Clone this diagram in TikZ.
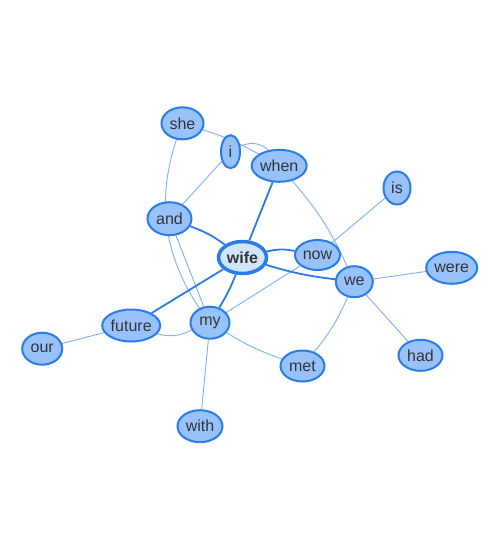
\documentclass[tikz,border=0pt]{standalone}
\usepackage{fontspec}
\setmainfont{Liberation Sans}
\usetikzlibrary{shapes.geometric,backgrounds}
\definecolor{nodefill}{HTML}{97C2FC}
\definecolor{nodeborder}{HTML}{2B7CE9}
\definecolor{hifill}{HTML}{D2E5FF}
\definecolor{thinedge}{HTML}{7FB0F4}
\definecolor{txt}{HTML}{343434}
\tikzset{
  word/.style={ellipse, draw=nodeborder, fill=nodefill, line width=2pt, inner sep=0pt,
    text=txt, font=\fontsize{16}{18}\selectfont},
  hub/.style={word, fill=hifill, line width=3.5pt, font=\fontsize{16}{18}\selectfont\bfseries},
  thin/.style={draw=thinedge, line width=0.9pt},
  med/.style={draw=nodeborder, line width=1.8pt},
}
\begin{document}
\begin{tikzpicture}[x=1pt,y=1pt]
\useasboundingbox (0,0) rectangle (500,-550);
% nodes
\node[word, minimum width=42pt, minimum height=32pt] (she) at (182.5,-123.3) {she};
\node[word, minimum width=19pt, minimum height=33pt] (i) at (230.5,-151.7) {i};
\node[word, minimum width=55pt, minimum height=32pt] (when) at (279.2,-165.8) {when};
\node[word, minimum width=27pt, minimum height=33pt] (is) at (397,-188) {is};
\node[word, minimum width=44pt, minimum height=33pt] (and) at (169.5,-218.7) {and};
\node[word, minimum width=45pt, minimum height=30pt] (now) at (317.5,-255) {now};
\node[word, minimum width=37pt, minimum height=31pt] (we) at (354.3,-281.7) {we};
\node[word, minimum width=51pt, minimum height=32pt] (were) at (451.7,-267.8) {were};
\node[word, minimum width=58pt, minimum height=32pt] (future) at (131.2,-325.5) {future};
\node[word, minimum width=39pt, minimum height=32pt] (my) at (210,-322.7) {my};
\node[word, minimum width=40pt, minimum height=32pt] (our) at (42.2,-348.7) {our};
\node[word, minimum width=44pt, minimum height=31pt] (met) at (302.5,-366) {met};
\node[word, minimum width=44pt, minimum height=31pt] (had) at (420.5,-355.3) {had};
\node[word, minimum width=45pt, minimum height=32pt] (with) at (200,-426.2) {with};
\node[hub, minimum width=48pt, minimum height=32pt] (wife) at (242.5,-257.5) {wife};
% edges
\begin{pgfonlayer}{background}
\draw[thin] (she) to[bend left=6] (when);
\draw[thin] (she.center) to[bend right=30] (my.center);
\draw[thin] (i.center) to[out=35,in=115,looseness=1.3] (when.center);
\draw[thin] (i) -- (and);
\draw[thin] (when) to[bend left=8] (we);
\draw[thin] (is) -- (now);
\draw[thin] (and) -- (my);
\draw[thin] (future) to[bend right=20] (my);
\draw[thin] (future) -- (our);
\draw[thin] (my) -- (with);
\draw[thin] (my) to[bend right=6] (met);
\draw[thin] (my) -- (now);
\draw[thin] (we) -- (were);
\draw[thin] (we) -- (had);
\draw[thin] (we) to[bend left=8] (met);
\draw[med] (when) -- (wife);
\draw[med] (and) to[bend left=8] (wife);
\draw[med] (wife) to[bend left=5] (my);
\draw[med] (future) -- (wife);
\draw[med] (wife) to[bend left=12] (now);
\draw[med] (wife) to[bend right=5] (we);
\end{pgfonlayer}
\end{tikzpicture}
\end{document}
